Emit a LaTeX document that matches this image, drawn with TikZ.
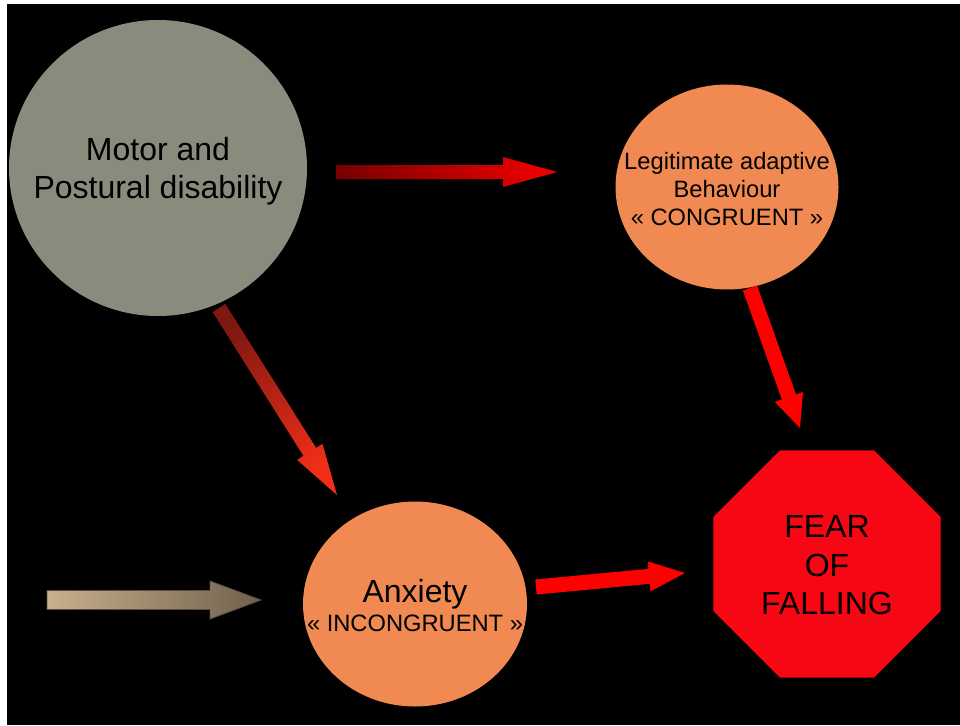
\documentclass[tikz,border=0pt]{standalone}
\usepackage{fontspec}
\setmainfont{Liberation Sans}
\usepackage{xcolor}
\usetikzlibrary{shapes.geometric,calc,positioning}

\definecolor{greydisc}{RGB}{139,139,125}
\definecolor{peach}{RGB}{240,138,82}
\definecolor{stopred}{RGB}{247,6,19}
\definecolor{darkred}{RGB}{118,0,0}
\definecolor{brickred}{RGB}{128,24,18}
\definecolor{flamered}{RGB}{242,46,24}
\definecolor{sandlight}{RGB}{200,176,140}
\definecolor{sanddark}{RGB}{112,97,77}

% block arrow: style, from, to, half shaft, half head, head length
\newcommand{\blockarrow}[6]{%
  \path[#1] ($(#2)!#4!90:(#3)$) -- ($(#3)!#6!(#2)!#4!-90:(#2)$)
    -- ($(#3)!#6!(#2)!#5!-90:(#2)$) -- (#3)
    -- ($(#3)!#6!(#2)!#5!90:(#2)$) -- ($(#3)!#6!(#2)!#4!90:(#2)$)
    -- ($(#2)!#4!-90:(#3)$) -- cycle;}

\begin{document}
\begin{tikzpicture}[x=1pt,y=-1pt,
                    bubble/.style={ellipse, inner sep=0pt, fill=#1},
                    words/.style={align=center, inner sep=0pt},
                    topfont/.style={font=\fontsize{32}{38}\selectfont},
                    smallfont/.style={font=\fontsize{23.7}{28}\selectfont},
                    toparrow/.style={left color=darkred, right color=red!96!black},
                    diagarrow/.style={top color=brickred, bottom color=flamered, shading angle=32},
                    plainarrow/.style={fill=red},
                    inarrow/.style={left color=sandlight, right color=sanddark, draw=sanddark!80!black, line width=0.8pt},
                   ]

\useasboundingbox (0,0) rectangle (960,725);
\fill[white] (0,0) rectangle (960,725);
\fill[black] (7,4) rectangle (960,725);

\node[bubble=greydisc, minimum width=298, minimum height=296] (motor) at (158,168) {};
\node[words, topfont] (motortext) at ([yshift=-3]motor.center) {Motor and\\Postural disability};

\node[bubble=peach, minimum width=223, minimum height=205] (legit) at (727,187) {};
\node[words, smallfont] (legittext) at ([yshift=-2]legit.center) {Legitimate adaptive\\Behaviour\\« CONGRUENT »};

\node[bubble=peach, minimum width=224, minimum height=205] (anx) at (415,604) {};
\node[words, smallfont] (anxtext) at ([yshift=-2]anx.center)
  {{\fontsize{32}{32}\selectfont Anxiety}\\[1pt]« INCONGRUENT »};

\node[regular polygon, regular polygon sides=8, minimum size=246, inner sep=0pt,
      fill=stopred, words, font=\fontsize{32}{38.5}\selectfont] (fear) at (827,564)
  {};
\node[words, font=\fontsize{32}{38.5}\selectfont] (feartext) at ([yshift=-1.5]fear.center)
  {FEAR\\OF\\FALLING};

\coordinate (m1) at (336,172);
\coordinate (l1) at (557,172);
\coordinate (m2) at (219,308);
\coordinate (a1) at (337,495);
\coordinate (l2) at (750,288);
\coordinate (f1) at (800,428);
\coordinate (a2) at (536,587);
\coordinate (f2) at (685,573);
\coordinate (in) at (47,600);
\coordinate (a3) at (261,600);

\blockarrow{toparrow}{m1}{l1}{7pt}{15pt}{54pt}
\blockarrow{diagarrow}{m2}{a1}{7.5pt}{15pt}{51pt}
\blockarrow{plainarrow}{l2}{f1}{7.5pt}{15pt}{33pt}
\blockarrow{plainarrow}{a2}{f2}{7.5pt}{15pt}{36pt}
\blockarrow{inarrow}{in}{a3}{9.5pt}{19pt}{51pt}

\end{tikzpicture}
\end{document}
